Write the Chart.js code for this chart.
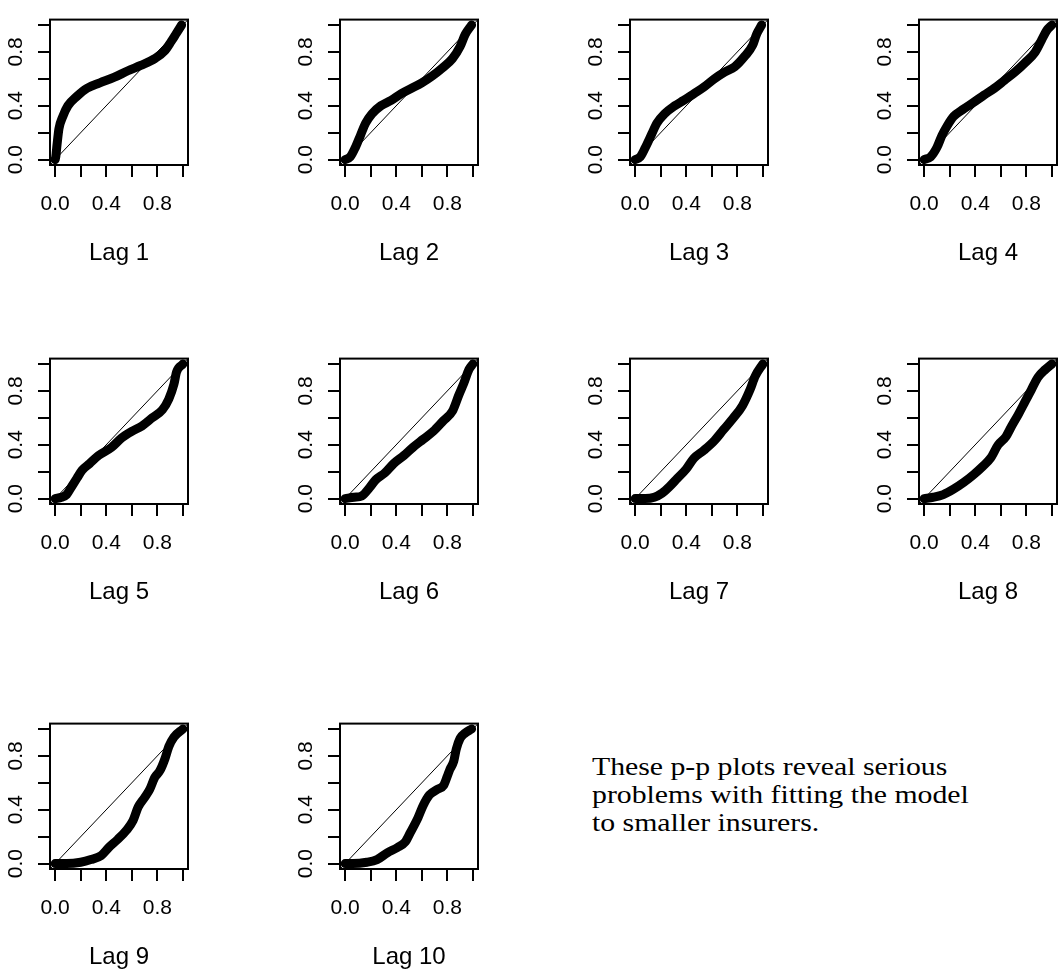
<!DOCTYPE html>
<html>
<head>
<meta charset="utf-8">
<title>p-p plots by lag</title>
<script src="https://cdn.jsdelivr.net/npm/chart.js"></script>
<style>
  html, body {
    margin: 0;
    padding: 0;
    background: #fff;
    width: 1064px;
    height: 977px;
    overflow: hidden;
  }
  .panel {
    position: absolute;
    width: 290px;
    height: 275px;
  }
  .note {
    position: absolute;
    left: 592px;
    top: 753px;
    font-family: "Liberation Serif", "Times New Roman", serif;
    font-size: 25px;
    line-height: 28px;
    color: #000;
    white-space: nowrap;
    transform: scaleX(1.19);
    transform-origin: left top;
  }
</style>
</head>
<body>

<div class="note">These p-p plots reveal serious<br>problems with fitting the model<br>to smaller insurers.</div>

<script>
// Axis ticks (R style: marks every 0.2, labels every 0.4)
const tickValues = [0, 0.2, 0.4, 0.6, 0.8, 1.0];
const tickLabels = ['0.0', '', '0.4', '', '0.8', ''];
const axisRange = [-0.04, 1.04];

const lagNames = ['Lag 1', 'Lag 2', 'Lag 3', 'Lag 4', 'Lag 5',
                  'Lag 6', 'Lag 7', 'Lag 8', 'Lag 9', 'Lag 10'];

// 45 degree reference line
const diagonal = [[-0.04, -0.04], [1.04, 1.04]];

const lag1 = [[0, 0], [0.005, 0.02], [0.015, 0.11], [0.03, 0.23], [0.06, 0.32], [0.10, 0.40],
  [0.17, 0.47], [0.25, 0.53], [0.35, 0.57], [0.46, 0.61], [0.57, 0.66], [0.67, 0.70],
  [0.78, 0.75], [0.86, 0.81], [0.91, 0.88], [0.95, 0.94], [0.99, 1.0]];
const lag2 = [[0, 0], [0.04, 0.02], [0.08, 0.09], [0.12, 0.18], [0.16, 0.27], [0.21, 0.34],
  [0.28, 0.40], [0.36, 0.44], [0.44, 0.49], [0.52, 0.53], [0.60, 0.57], [0.68, 0.62],
  [0.76, 0.68], [0.84, 0.75], [0.90, 0.84], [0.94, 0.93], [0.99, 1.0]];
const lag3 = [[0, 0], [0.04, 0.02], [0.08, 0.09], [0.13, 0.19], [0.17, 0.27], [0.23, 0.34],
  [0.31, 0.40], [0.38, 0.44], [0.46, 0.49], [0.54, 0.54], [0.62, 0.60], [0.70, 0.65],
  [0.78, 0.69], [0.86, 0.77], [0.92, 0.85], [0.95, 0.93], [0.99, 1.0]];
const lag4 = [[0, 0], [0.05, 0.02], [0.10, 0.09], [0.14, 0.18], [0.18, 0.25], [0.23, 0.32],
  [0.30, 0.37], [0.38, 0.42], [0.47, 0.48], [0.55, 0.53], [0.63, 0.59], [0.71, 0.65],
  [0.79, 0.72], [0.87, 0.80], [0.92, 0.89], [0.96, 0.96], [1.0, 1.0]];
const lag5 = [[0, 0], [0.05, 0.01], [0.09, 0.03], [0.13, 0.09], [0.17, 0.15], [0.21, 0.21],
  [0.27, 0.26], [0.34, 0.32], [0.44, 0.38], [0.52, 0.45], [0.60, 0.50], [0.68, 0.54],
  [0.76, 0.60], [0.84, 0.66], [0.89, 0.74], [0.93, 0.85], [0.95, 0.94], [1.0, 1.0]];
const lag6 = [[0, 0], [0.07, 0.01], [0.13, 0.02], [0.19, 0.08], [0.24, 0.14], [0.31, 0.19],
  [0.38, 0.26], [0.46, 0.32], [0.53, 0.38], [0.61, 0.44], [0.69, 0.50], [0.77, 0.58],
  [0.84, 0.65], [0.89, 0.77], [0.93, 0.86], [0.97, 0.96], [1.0, 1.0]];
const lag7 = [[0, 0], [0.08, 0.0], [0.15, 0.01], [0.21, 0.04], [0.27, 0.09], [0.33, 0.15],
  [0.40, 0.22], [0.46, 0.30], [0.54, 0.36], [0.62, 0.43], [0.69, 0.51], [0.77, 0.60],
  [0.84, 0.69], [0.90, 0.81], [0.94, 0.91], [1.0, 1.0]];
const lag8 = [[0, 0], [0.07, 0.01], [0.15, 0.03], [0.23, 0.07], [0.31, 0.12], [0.39, 0.18],
  [0.46, 0.24], [0.52, 0.30], [0.58, 0.40], [0.64, 0.46], [0.68, 0.53], [0.74, 0.63],
  [0.79, 0.72], [0.84, 0.81], [0.89, 0.90], [0.95, 0.96], [1.0, 1.0]];
const lag9 = [[0, 0], [0.09, 0.0], [0.20, 0.01], [0.28, 0.03], [0.36, 0.06], [0.42, 0.12],
  [0.49, 0.18], [0.56, 0.25], [0.61, 0.32], [0.65, 0.42], [0.70, 0.49], [0.74, 0.55],
  [0.78, 0.64], [0.82, 0.69], [0.86, 0.78], [0.89, 0.87], [0.93, 0.94], [1.0, 1.0]];
const lag10 = [[0, 0], [0.06, 0.0], [0.17, 0.01], [0.25, 0.03], [0.33, 0.08], [0.41, 0.12],
  [0.47, 0.16], [0.51, 0.23], [0.57, 0.34], [0.61, 0.43], [0.66, 0.51], [0.72, 0.55],
  [0.77, 0.58], [0.80, 0.65], [0.82, 0.70], [0.85, 0.76], [0.87, 0.85], [0.90, 0.93],
  [0.94, 0.97], [0.99, 1.0]];

const lagSeries = [lag1, lag2, lag3, lag4, lag5, lag6, lag7, lag8, lag9, lag10];

// Page grid: left edge of each plot box per column, top edge per row
const colLeft = [50, 340, 630, 919];
const rowTop = [7, 346, 711];

const fontFamily = '"Liberation Sans", Arial, sans-serif';

// Draws the full box round the plot region, like R's box()
const boxPlugin = {
  id: 'rbox',
  afterDraw(chart) {
    const { ctx, chartArea } = chart;
    ctx.save();
    ctx.strokeStyle = '#000';
    ctx.lineWidth = 2;
    ctx.strokeRect(chartArea.left, chartArea.top,
      chartArea.right - chartArea.left, chartArea.bottom - chartArea.top);
    ctx.restore();
  }
};

function setTicks(scale) {
  scale.ticks = tickValues.map(v => ({ value: v }));
}

function tickText(value) {
  const i = tickValues.findIndex(v => Math.abs(v - value) < 1e-9);
  return i >= 0 ? tickLabels[i] : '';
}

function makePanel(index) {
  const col = index % 4;
  const row = Math.floor(index / 4);

  const holder = document.createElement('div');
  holder.className = 'panel';
  holder.style.left = (colLeft[col] - 50) + 'px';
  holder.style.top = (rowTop[row] - 7) + 'px';
  const canvas = document.createElement('canvas');
  canvas.width = 290;
  canvas.height = 275;
  holder.appendChild(canvas);
  document.body.appendChild(holder);

  const toPoints = arr => arr.map(p => ({ x: p[0], y: p[1] }));

  const sharedGrid = {
    drawOnChartArea: false,
    drawTicks: true,
    tickLength: 12,
    color: '#000',
    lineWidth: 2
  };

  new Chart(canvas.getContext('2d'), {
    type: 'line',
    data: {
      datasets: [
        {
          data: toPoints(diagonal),
          borderColor: '#000',
          borderWidth: 1,
          pointRadius: 0,
          clip: 0
        },
        {
          data: toPoints(lagSeries[index]),
          borderColor: '#000',
          borderWidth: 9,
          borderCapStyle: 'round',
          borderJoinStyle: 'round',
          cubicInterpolationMode: 'monotone',
          pointRadius: 0,
          clip: 0
        }
      ]
    },
    options: {
      responsive: false,
      animation: false,
      devicePixelRatio: 1,
      layout: { padding: { top: 7, right: 102, left: 0, bottom: 0 } },
      plugins: {
        legend: { display: false },
        tooltip: { enabled: false }
      },
      scales: {
        x: {
          type: 'linear',
          min: axisRange[0],
          max: axisRange[1],
          afterBuildTicks: setTicks,
          afterFit: s => { s.height = 110; },
          grid: sharedGrid,
          border: { display: false },
          ticks: {
            autoSkip: false,
            minRotation: 0,
            maxRotation: 0,
            padding: 15,
            color: '#000',
            font: { family: fontFamily, size: 21 },
            callback: tickText
          },
          title: {
            display: true,
            text: lagNames[index],
            color: '#000',
            font: { family: fontFamily, size: 24 },
            padding: { top: 0, bottom: 7 }
          }
        },
        y: {
          type: 'linear',
          min: axisRange[0],
          max: axisRange[1],
          afterBuildTicks: setTicks,
          afterFit: s => { s.width = 50; },
          grid: sharedGrid,
          border: { display: false },
          ticks: {
            autoSkip: false,
            minRotation: 90,
            maxRotation: 90,
            crossAlign: 'center',
            padding: 7,
            color: '#000',
            font: { family: fontFamily, size: 21 },
            callback: tickText
          }
        }
      }
    },
    plugins: [boxPlugin]
  });
}

for (let i = 0; i < lagSeries.length; i++) {
  makePanel(i);
}
</script>
</body>
</html>
